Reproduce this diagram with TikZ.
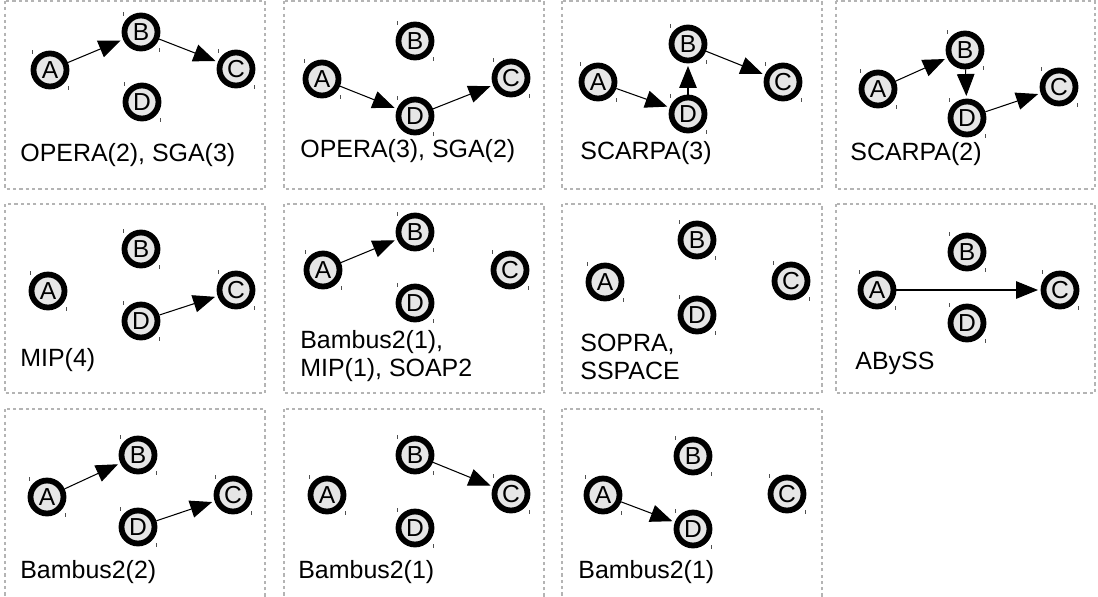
\documentclass[tikz,border=0pt]{standalone}
\usepackage{fontspec}
\setmainfont{Liberation Sans}
\usetikzlibrary{arrows.meta}

\definecolor{ctgfill}{HTML}{E6E6E6}
\definecolor{boxline}{HTML}{B4B4B4}
\definecolor{tickc}{HTML}{505050}

\tikzset{
  ctg/.style={circle, draw=black, line width=3.3pt, fill=ctgfill, minimum size=0.66cm, inner sep=0pt,
    font=\fontsize{14}{14}\selectfont},
  link/.style={-{Triangle[length=12.5pt,width=10pt]}, line width=0.6pt, shorten >=1.5pt},
  panelbox/.style={draw=boxline, line width=0.8pt, dash pattern=on 1.8pt off 1.8pt},
  caption/.style={anchor=west, inner sep=0pt, align=left, font=\fontsize{14.2}{15.5}\selectfont},
  tick/.style={draw=tickc, line width=0.5pt}
}

\begin{document}
\begin{tikzpicture}[x=0.02cm, y=-0.02cm]

 \clip (0,0) rectangle (1098,596);

 %%%%%%%%%% Panels %%%%%%%%%%
 \draw [panelbox] (5,1) rectangle (265,189);
 \draw [panelbox] (284,1) rectangle (544,189);
 \draw [panelbox] (562,1) rectangle (822,189);
 \draw [panelbox] (836,1) rectangle (1095,189);

 \draw [panelbox] (5,204) rectangle (265,393);
 \draw [panelbox] (284,204) rectangle (544,393);
 \draw [panelbox] (562,204) rectangle (822,393);
 \draw [panelbox] (836,204) rectangle (1095,393);

 \draw [panelbox] (5,409) rectangle (265,610);
 \draw [panelbox] (284,409) rectangle (544,610);
 \draw [panelbox] (562,409) rectangle (822,610);

 %%%%%%%%%% Row 1 %%%%%%%%%%
 \node [ctg] (a1) at (50,70) {A};
 \node [ctg] (b1) at (141,32) {B};
 \node [ctg] (c1) at (236,69) {C};
 \node [ctg] (d1) at (142,102) {D};
 \node [caption] (t1) at (20,155) {OPERA(2), SGA(3)};

 \node [ctg] (a2) at (322,79) {A};
 \node [ctg] (b2) at (415,41) {B};
 \node [ctg] (c2) at (511,78) {C};
 \node [ctg] (d2) at (415,116) {D};
 \node [caption] (t2) at (300,151) {OPERA(3), SGA(2)};

 \node [ctg] (a3) at (598,82) {A};
 \node [ctg] (b3) at (688,44) {B};
 \node [ctg] (c3) at (783,82) {C};
 \node [ctg] (d3) at (688,114) {D};
 \node [caption] (t3) at (580,153) {SCARPA(3)};

 \node [ctg] (a4) at (878,89) {A};
 \node [ctg] (b4) at (965,50) {B};
 \node [ctg] (c4) at (1059,87) {C};
 \node [ctg] (d4) at (967,118) {D};
 \node [caption] (t4) at (850,154) {SCARPA(2)};

 %%%%%%%%%% Row 2 %%%%%%%%%%
 \node [ctg] (a5) at (48,291) {A};
 \node [ctg] (b5) at (141,249) {B};
 \node [ctg] (c5) at (236,290) {C};
 \node [ctg] (d5) at (141,321) {D};
 \node [caption] (t5) at (20,360) {MIP(4)};

 \node [ctg] (a6) at (323,270) {A};
 \node [ctg] (b6) at (415,232) {B};
 \node [ctg] (c6) at (510,270) {C};
 \node [ctg] (d6) at (415,303) {D};
 \node [caption] (t6) at (300,356) {Bambus2(1),\\MIP(1), SOAP2};

 \node [ctg] (a7) at (605,282) {A};
 \node [ctg] (b7) at (697,240) {B};
 \node [ctg] (c7) at (791,281) {C};
 \node [ctg] (d7) at (697,315) {D};
 \node [caption] (t7) at (580,357) {SOPRA,\\SSPACE};

 \node [ctg] (a8) at (877,290) {A};
 \node [ctg] (b8) at (967,252) {B};
 \node [ctg] (c8) at (1060,290) {C};
 \node [ctg] (d8) at (967,323) {D};
 \node [caption] (t8) at (855,363) {ABySS};

 %%%%%%%%%% Row 3 %%%%%%%%%%
 \node [ctg] (a9) at (47,497) {A};
 \node [ctg] (b9) at (138,455) {B};
 \node [ctg] (c9) at (233,495) {C};
 \node [ctg] (d9) at (138,527) {D};
 \node [caption] (t9) at (20,572) {Bambus2(2)};

 \node [ctg] (a10) at (327,495) {A};
 \node [ctg] (b10) at (415,455) {B};
 \node [ctg] (c10) at (511,494) {C};
 \node [ctg] (d10) at (415,528) {D};
 \node [caption] (t10) at (298,572) {Bambus2(1)};

 \node [ctg] (a11) at (603,495) {A};
 \node [ctg] (b11) at (693,456) {B};
 \node [ctg] (c11) at (787,494) {C};
 \node [ctg] (d11) at (693,529) {D};
 \node [caption] (t11) at (578,572) {Bambus2(1)};

 %%%%%%%%%% Small corner ticks %%%%%%%%%%
 \foreach \n in {1,...,11} {
   \foreach \l in {a,b,c,d} {
     \draw [tick] ([shift={(-18,-20)}]\l\n.center) -- ++(0,4);
     \draw [tick] ([shift={(18,16)}]\l\n.center) -- ++(0,4);
   }
 }

 %%%%%%%%%% Links %%%%%%%%%%
 \draw [link] (a1) -- (b1);
 \draw [link] (b1) -- (c1);

 \draw [link] (a2) -- (d2);
 \draw [link] (d2) -- (c2);

 \draw [link] (a3) -- (d3);
 \draw [link] (d3) -- (b3);
 \draw [link] (b3) -- (c3);

 \draw [link] (a4) -- (b4);
 \draw [link] (b4) -- (d4);
 \draw [link] (d4) -- (c4);

 \draw [link] (d5) -- (c5);

 \draw [link] (a6) -- (b6);

 \draw [link] (a8) -- (c8);

 \draw [link] (a9) -- (b9);
 \draw [link] (d9) -- (c9);

 \draw [link] (b10) -- (c10);

 \draw [link] (a11) -- (d11);

\end{tikzpicture}
\end{document}
